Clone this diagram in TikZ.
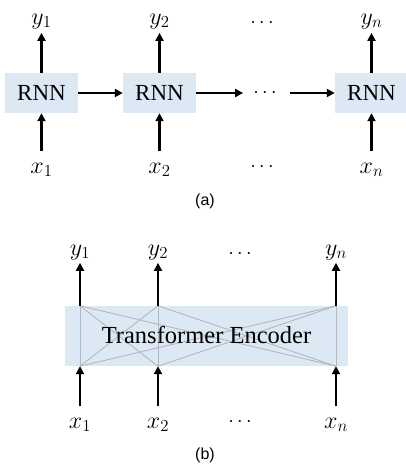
\RequirePackage{fix-cm}
\documentclass[tikz,border=0pt]{standalone}
\usepackage{fontspec}
\setmainfont{Liberation Serif}
\newfontfamily\capfont{Liberation Sans}
\usepackage{tikz}
\usetikzlibrary{arrows.meta,positioning,calc}
\definecolor{cellblue}{RGB}{221,232,245}
\definecolor{meshgray}{RGB}{178,184,194}

\begin{document}
\begin{tikzpicture}[
    x={(1pt,0)}, y={(0,-1pt)},
    cell/.style={rectangle, fill=cellblue, minimum width=73pt, minimum height=40pt, inner sep=0pt, font=\fontsize{23}{27}\selectfont},
    encbox/.style={rectangle, fill=cellblue, minimum width=283pt, minimum height=60pt, inner sep=0pt},
    var/.style={inner sep=0pt, anchor=base, font=\fontsize{24}{28}\selectfont},
    dots/.style={inner sep=0pt, font=\fontsize{20}{24}\selectfont},
    caption/.style={font=\capfont\fontsize{16}{19}\selectfont},
    arrow/.style={-{Triangle[length=8pt,width=8pt]}, line width=2.4pt},
    mesh/.style={color=meshgray, line width=0.9pt}
]
\useasboundingbox (0,0) rectangle (406,466);

% (a) recurrent chain
\node[cell] (rnn1) at (41.5, 93) {RNN};
\node[cell] (rnn2) at (159.5, 93) {RNN};
\node[cell] (rnnn) at (371.5, 93) {RNN};
\node[dots] (hdots) at (265, 93) {$\cdots$};

\node[var] (ya1) at (41.5, 24) {$y_1$};
\node[var] (ya2) at (159.5, 24) {$y_2$};
\node[var] (yan) at (371.5, 24) {$y_n$};
\node[dots] (yadots) at (262, 23) {$\cdots$};
\node[var] (xa1) at (41.5, 173) {$x_1$};
\node[var] (xa2) at (159.5, 173) {$x_2$};
\node[var] (xan) at (371.5, 173) {$x_n$};
\node[dots] (xadots) at (262, 167) {$\cdots$};

\foreach \i in {1,2,n} {
    \draw[arrow] (rnn\i.north) -- ([yshift=-4pt]ya\i.south);
    \draw[arrow] ([yshift=11pt]xa\i.north) -- (rnn\i.south);
}
\draw[arrow] (rnn1.east) -- (rnn2.west);
\draw[arrow] (rnn2.east) -- ([xshift=-10pt]hdots.west);
\draw[arrow] ([xshift=13pt]hdots.east) -- (rnnn.west);

\node[caption] (capa) at (205, 201) {(a)};

% (b) transformer encoder
\node[encbox] (enc) at (206.5, 336) {};

\node[var] (yb1) at (80, 255) {$y_1$};
\node[var] (yb2) at (158, 255) {$y_2$};
\node[var] (ybn) at (336, 255) {$y_n$};
\node[dots] (ybdots) at (240, 254) {$\cdots$};
\node[var] (xb1) at (80, 428) {$x_1$};
\node[var] (xb2) at (158, 428) {$x_2$};
\node[var] (xbn) at (336, 428) {$x_n$};
\node[dots] (xbdots) at (240, 422) {$\cdots$};

\foreach \i in {1,2,n} {
    \coordinate (top\i) at (yb\i |- enc.north);
    \coordinate (bot\i) at (xb\i |- enc.south);
}
% all-to-all attention lines
\foreach \i in {1,2,n} {
    \foreach \j in {1,2,n} {
        \draw[mesh] (top\i) -- (bot\j);
    }
}
\node[font=\fontsize{24.5}{29}\selectfont] (enclabel) at (206.5, 335) {Transformer Encoder};

\foreach \i in {1,2,n} {
    \draw[arrow] (top\i) -- ([yshift=-3pt]yb\i.south);
    \draw[arrow] ([yshift=11pt]xb\i.north) -- (bot\i);
}

\node[caption] (capb) at (205, 455) {(b)};
\end{tikzpicture}
\end{document}
